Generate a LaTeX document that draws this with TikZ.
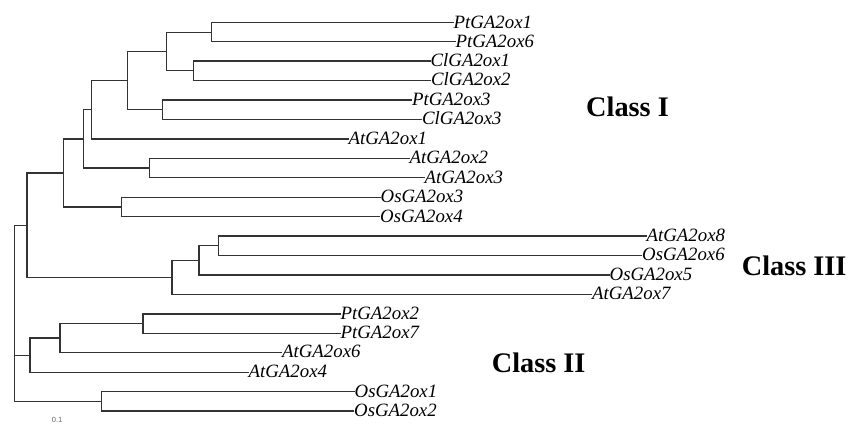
\documentclass[tikz,border=0pt]{standalone}
\usepackage{fontspec}
\setmainfont{Liberation Serif}
\setsansfont{Liberation Sans}
\begin{document}
\begin{tikzpicture}[x=1pt,y=-1pt,
  branch/.style={draw=black!80,line width=1.2pt,line cap=rect},
  leaf/.style={anchor=base west,inner sep=0pt,font=\fontsize{18.8}{20}\selectfont\itshape},
  clade/.style={anchor=base west,inner sep=0pt,font=\fontsize{28.3}{30}\selectfont\bfseries},
  scalelbl/.style={anchor=base west,inner sep=0pt,text=black!60,font=\fontsize{7.5}{8}\selectfont\sffamily}]
\useasboundingbox (0,0) rectangle (848,423);

% leaf tips
\coordinate (L0)  at (453,22.7);
\coordinate (L1)  at (455,41.7);
\coordinate (L2)  at (430,61);
\coordinate (L3)  at (430.5,80.3);
\coordinate (L4)  at (411.5,100);
\coordinate (L5)  at (421.5,119.3);
\coordinate (L6)  at (348,139);
\coordinate (L7)  at (409,158.3);
\coordinate (L8)  at (424,177.7);
\coordinate (L9)  at (380,197.3);
\coordinate (L10) at (379.5,216.7);
\coordinate (L11) at (646,236);
\coordinate (L12) at (641.5,255.3);
\coordinate (L13) at (609,275);
\coordinate (L14) at (591.5,294.3);
\coordinate (L15) at (340,314);
\coordinate (L16) at (340,333.3);
\coordinate (L17) at (281.5,352.3);
\coordinate (L18) at (248,372.3);
\coordinate (L19) at (354,391.7);
\coordinate (L20) at (353.5,411);

% internal nodes
\coordinate (n1)  at (211.3,32.2);
\coordinate (n2)  at (193.3,70.7);
\coordinate (n3)  at (166.7,51.4);
\coordinate (n4)  at (162.7,109.7);
\coordinate (n5)  at (127.7,80.5);
\coordinate (n6)  at (91.3,109.8);
\coordinate (n7)  at (149.3,168);
\coordinate (n8)  at (83.3,138.9);
\coordinate (n9)  at (121.3,207);
\coordinate (n10) at (63.7,172.9);
\coordinate (n11) at (218.7,245.7);
\coordinate (n12) at (199,260.3);
\coordinate (n13) at (172,277.3);
\coordinate (n14) at (27,225.1);
\coordinate (n15) at (143,323.7);
\coordinate (n16) at (60,338);
\coordinate (n17) at (30,355.1);
\coordinate (n18) at (101.7,401.3);
\coordinate (root) at (14.3,313);

% branches
\draw[branch] (n1) |- (L0) (n1) |- (L1);
\draw[branch] (n2) |- (L2) (n2) |- (L3);
\draw[branch] (n3) |- (n1) (n3) |- (n2);
\draw[branch] (n4) |- (L4) (n4) |- (L5);
\draw[branch] (n5) |- (n3) (n5) |- (n4);
\draw[branch] (n6) |- (n5) (n6) |- (L6);
\draw[branch] (n7) |- (L7) (n7) |- (L8);
\draw[branch] (n8) |- (n6) (n8) |- (n7);
\draw[branch] (n9) |- (L9) (n9) |- (L10);
\draw[branch] (n10) |- (n8) (n10) |- (n9);
\draw[branch] (n11) |- (L11) (n11) |- (L12);
\draw[branch] (n12) |- (n11) (n12) |- (L13);
\draw[branch] (n13) |- (n12) (n13) |- (L14);
\draw[branch] (n14) |- (n10) (n14) |- (n13);
\draw[branch] (n15) |- (L15) (n15) |- (L16);
\draw[branch] (n16) |- (n15) (n16) |- (L17);
\draw[branch] (n17) |- (n16) (n17) |- (L18);
\draw[branch] (n18) |- (L19) (n18) |- (L20);
\draw[branch] (root) |- (n14) (root) |- (n17) (root) |- (n18);

% leaf labels
\foreach \i/\t in {0/PtGA2ox1,1/PtGA2ox6,2/ClGA2ox1,3/ClGA2ox2,4/PtGA2ox3,
  5/ClGA2ox3,6/AtGA2ox1,7/AtGA2ox2,8/AtGA2ox3,9/OsGA2ox3,10/OsGA2ox4,
  11/AtGA2ox8,12/OsGA2ox6,13/OsGA2ox5,14/AtGA2ox7,15/PtGA2ox2,16/PtGA2ox7,
  17/AtGA2ox6,18/AtGA2ox4,19/OsGA2ox1,20/OsGA2ox2}
  \node[leaf] (t\i) at ([xshift=0.5pt,yshift=-5.6pt]L\i) {\t};

% clade names
\node[clade] (c1) at (586,116) {Class I};
\node[clade] (c3) at (741.7,275) {Class III};
\node[clade] (c2) at (491.7,372.7) {Class II};

% scale
\node[scalelbl] (sc) at (51.7,422.3) {0.1};
\end{tikzpicture}
\end{document}
